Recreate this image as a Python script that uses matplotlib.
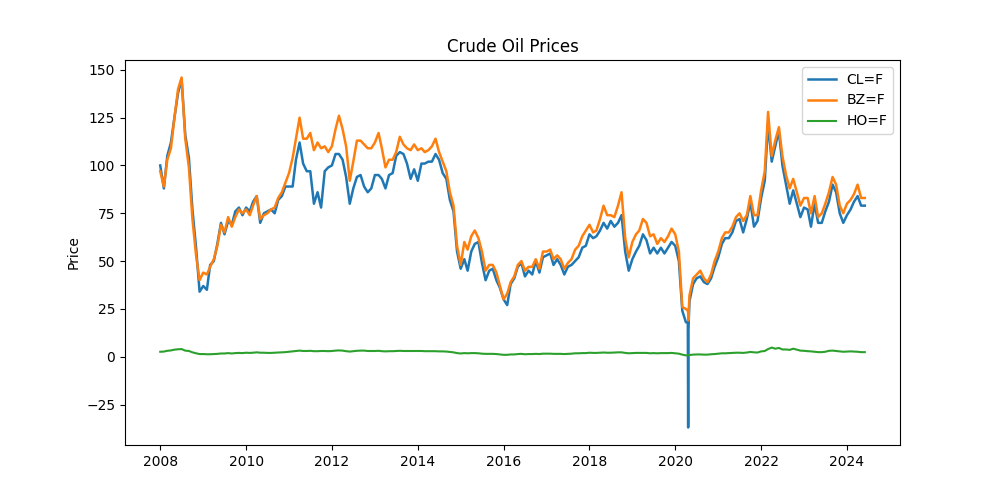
import numpy as np
import pandas as pd
import matplotlib
matplotlib.use("Agg")
import matplotlib.pyplot as plt

# monthly values, Jan 2008 .. Jun 2024
months = pd.date_range("2008-01-01", "2024-06-01", freq="MS")

cl = [100, 88, 105, 112, 125, 138, 145, 116, 104, 77, 57, 34,
      37, 35, 48, 50, 59, 70, 64, 71, 69, 76, 78, 74,
      78, 76, 81, 84, 70, 75, 76, 77, 75, 82, 84, 89,
      89, 89, 103, 112, 101, 97, 97, 80, 86, 78, 97, 99,
      100, 106, 106, 103, 94, 80, 88, 94, 95, 89, 86, 88,
      95, 95, 93, 88, 95, 96, 105, 107, 106, 101, 93, 98,
      92, 101, 101, 102, 102, 106, 103, 96, 93, 82, 76, 55,
      46, 51, 45, 55, 59, 60, 49, 40, 45, 46, 40, 36,
      30, 27, 38, 41, 47, 49, 42, 45, 43, 50, 44, 52,
      53, 54, 48, 51, 48, 43, 47, 48, 50, 52, 57, 58,
      64, 62, 63, 66, 70, 67, 71, 68, 70, 74, 55, 45,
      51, 55, 58, 64, 61, 54, 57, 54, 57, 54, 57, 60,
      58, 50, 24, 18, 29, 38, 41, 42, 39, 38, 41, 47,
      52, 59, 62, 62, 65, 71, 72, 65, 72, 81, 68, 71,
      83, 92, 122, 102, 110, 118, 100, 90, 80, 87, 80, 73,
      78, 77, 68, 80, 70, 70, 76, 81, 90, 86, 75, 70,
      74, 77, 81, 84, 79, 79]

bz = [97, 89, 103, 109, 125, 140, 146, 114, 99, 72, 53, 40,
      44, 43, 47, 51, 58, 69, 65, 73, 68, 73, 77, 75,
      77, 74, 79, 84, 72, 74, 75, 77, 78, 83, 86, 91,
      96, 104, 114, 125, 114, 114, 117, 108, 112, 109, 110, 107,
      110, 119, 126, 119, 110, 92, 102, 113, 113, 111, 109, 109,
      112, 117, 109, 99, 103, 103, 107, 115, 111, 109, 108, 111,
      108, 109, 107, 108, 110, 114, 107, 102, 97, 86, 79, 58,
      48, 60, 56, 63, 66, 62, 55, 45, 48, 48, 44, 37,
      30, 33, 39, 42, 48, 50, 45, 47, 47, 51, 46, 55,
      55, 56, 51, 53, 51, 46, 49, 51, 56, 58, 63, 66,
      69, 65, 66, 72, 79, 74, 74, 73, 79, 86, 62, 52,
      60, 64, 66, 72, 70, 63, 64, 59, 62, 60, 63, 67,
      64, 55, 26, 25, 32, 41, 43, 45, 41, 39, 43, 50,
      55, 62, 65, 65, 68, 73, 75, 71, 74, 84, 74, 74,
      87, 97, 128, 105, 113, 120, 105, 95, 88, 93, 86, 79,
      83, 83, 75, 84, 73, 75, 80, 86, 94, 90, 79, 75,
      80, 82, 85, 90, 83, 83]

ho = [2.6, 2.7, 3.1, 3.3, 3.7, 3.9, 4.0, 3.2, 3.0, 2.3, 1.8, 1.4,
      1.4, 1.3, 1.3, 1.4, 1.5, 1.7, 1.7, 1.9, 1.7, 1.9, 2.0, 1.9,
      2.1, 2.0, 2.1, 2.3, 2.1, 2.1, 2.0, 2.0, 2.1, 2.2, 2.3, 2.4,
      2.6, 2.8, 3.0, 3.2, 3.0, 3.0, 3.1, 2.9, 2.9, 3.0, 3.0, 2.9,
      3.0, 3.2, 3.3, 3.2, 2.9, 2.7, 2.9, 3.1, 3.2, 3.2, 3.0, 3.0,
      3.0, 3.1, 2.9, 2.8, 2.9, 2.9, 3.0, 3.1, 3.0, 3.0, 3.0, 3.0,
      3.0, 3.0, 2.9, 2.9, 2.9, 2.9, 2.8, 2.8, 2.7, 2.5, 2.3, 1.9,
      1.7, 1.9, 1.8, 1.9, 1.9, 1.8, 1.6, 1.5, 1.5, 1.5, 1.4, 1.2,
      1.0, 1.0, 1.2, 1.2, 1.4, 1.5, 1.3, 1.4, 1.4, 1.5, 1.4, 1.6,
      1.6, 1.6, 1.5, 1.5, 1.5, 1.4, 1.5, 1.6, 1.8, 1.8, 1.9, 1.9,
      2.1, 2.0, 2.0, 2.1, 2.2, 2.1, 2.1, 2.2, 2.3, 2.3, 2.0, 1.8,
      1.9, 2.0, 2.0, 2.0, 2.0, 1.8, 1.9, 1.8, 1.9, 1.9, 1.9, 2.0,
      1.8, 1.6, 1.1, 0.7, 0.9, 1.1, 1.2, 1.2, 1.1, 1.1, 1.3, 1.4,
      1.6, 1.8, 1.8, 1.9, 2.0, 2.1, 2.1, 2.0, 2.2, 2.5, 2.3, 2.2,
      2.8, 3.0, 4.0, 4.8, 4.2, 4.6, 3.8, 3.8, 3.6, 4.2, 3.7, 3.2,
      3.1, 2.9, 2.8, 2.6, 2.4, 2.4, 2.6, 3.1, 3.2, 3.0, 2.8, 2.6,
      2.7, 2.8, 2.7, 2.6, 2.4, 2.4]

# the April 2020 negative settlement, daily points
spike_days = pd.to_datetime(["2020-04-17", "2020-04-20", "2020-04-21", "2020-04-22"])
spike_cl = [18, -37, 10, 14]
spike_bz = [24, 23, 19, 20]
spike_ho = [0.8, 0.75, 0.75, 0.8]

df = pd.DataFrame({"CL=F": cl, "BZ=F": bz, "HO=F": ho}, index=months)
spike = pd.DataFrame({"CL=F": spike_cl, "BZ=F": spike_bz, "HO=F": spike_ho}, index=spike_days)
df = pd.concat([df, spike]).sort_index()

fig, ax = plt.subplots(figsize=(10, 5), dpi=100)
ax.plot(df.index, df["CL=F"], label="CL=F", lw=1.8)
ax.plot(df.index, df["BZ=F"], label="BZ=F", lw=1.8)
ax.plot(df.index, df["HO=F"], label="HO=F", lw=1.5)
ax.set_title("Crude Oil Prices")
ax.set_ylabel("Price")
ax.legend(loc="upper right")
fig.savefig("out.png")
